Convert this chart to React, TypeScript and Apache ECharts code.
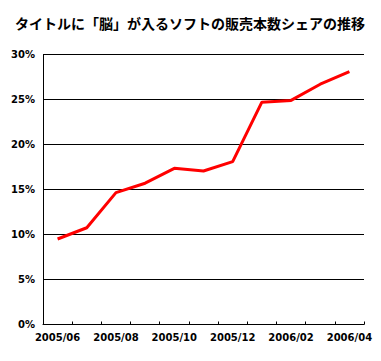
import React, { useEffect, useRef } from "react";
import * as echarts from "echarts";

const titleText = "タイトルに「脳」が入るソフトの販売本数シェアの推移";
const months = [
  "2005/06", "2005/07", "2005/08", "2005/09", "2005/10", "2005/11",
  "2005/12", "2006/01", "2006/02", "2006/03", "2006/04",
];
const shares = [9.5, 10.75, 14.65, 15.7, 17.35, 17.05, 18.1, 24.7, 24.9, 26.7, 28.1];

export default function App() {
  const ref = useRef<HTMLDivElement>(null);
  useEffect(() => {
    if (!ref.current) return;
    const chart = echarts.init(ref.current, null, { renderer: "svg" });
    chart.setOption({
      animation: false,
      backgroundColor: "#ffffff",
      title: {
        text: titleText,
        left: 10,
        top: 11,
        textStyle: {
          fontFamily: "Noto Sans CJK JP",
          fontWeight: "bold",
          fontSize: 14,
          color: "#000",
        },
      },
      grid: { left: 43, right: 17, top: 54.5, bottom: 36.5 },
      xAxis: {
        type: "category",
        data: months,
        boundaryGap: true,
        axisLine: { lineStyle: { color: "#000", width: 1 } },
        axisTick: { show: true, inside: true, length: 3, lineStyle: { color: "#000" }, interval: 0 },
        axisLabel: {
          interval: 1,
          color: "#000",
          fontFamily: "DejaVu Sans",
          fontWeight: "bold",
          fontSize: 10,
          margin: 8,
        },
        splitLine: { show: false },
      },
      yAxis: {
        type: "value",
        min: 0,
        max: 30,
        interval: 5,
        axisLine: { show: true, lineStyle: { color: "#000", width: 1 } },
        axisTick: { show: false },
        axisLabel: {
          formatter: "{value}%",
          color: "#000",
          fontFamily: "DejaVu Sans",
          fontWeight: "bold",
          fontSize: 10,
          margin: 8,
        },
        splitLine: { show: true, lineStyle: { color: "#000", width: 1 } },
      },
      series: [
        {
          type: "line",
          data: shares,
          showSymbol: false,
          symbol: "none",
          lineStyle: { color: "#ff0000", width: 3 },
        },
      ],
    });
    return () => chart.dispose();
  }, []);
  return <div ref={ref} style={{ width: 381, height: 361, position: "absolute", left: 0, top: 0 }} />;
}
